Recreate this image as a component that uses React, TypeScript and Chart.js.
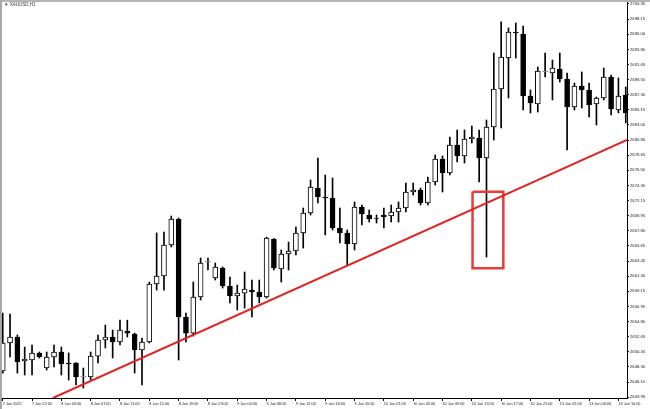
import { useEffect, useRef } from 'react';
import { Chart, registerables } from 'chart.js';

Chart.register(...registerables);

const OPEN = [
  2647.68, 2651.70, 2652.56, 2649.12, 2649.26, 2650.27, 2648.11, 2649.69, 2650.41, 2648.83,
  2648.83, 2646.82, 2646.82, 2649.83, 2652.13, 2652.56, 2651.84, 2653.42, 2652.99, 2650.70,
  2651.84, 2660.17, 2661.31, 2665.76, 2669.49, 2655.43, 2653.13, 2658.30, 2663.32, 2661.03,
  2662.46, 2659.88, 2658.44, 2658.87, 2659.30, 2659.02, 2658.30, 2666.62, 2662.32, 2664.47,
  2664.90, 2667.49, 2670.36, 2673.94, 2672.65, 2672.51, 2668.20, 2667.49, 2665.91, 2671.22,
  2670.07, 2669.56, 2670.07, 2669.92, 2670.50, 2671.07, 2673.37, 2673.66, 2671.79, 2674.81,
  2678.11, 2676.10, 2680.12, 2678.54, 2680.98, 2681.12, 2678.25, 2682.70, 2688.15, 2692.60,
  2696.33, 2696.04, 2687.15, 2686.00, 2690.66, 2690.45, 2691.02, 2689.59, 2685.57, 2688.58,
  2688.01, 2686.00, 2686.86, 2689.87, 2685.14, 2687.29,
];
const HIGH = [
  2655.99, 2655.86, 2652.85, 2651.12, 2651.41, 2650.41, 2650.41, 2651.41, 2651.12, 2650.27,
  2648.90, 2648.11, 2650.41, 2652.85, 2654.28, 2653.56, 2654.98, 2654.98, 2653.13, 2652.42,
  2660.45, 2667.49, 2667.63, 2669.92, 2669.64, 2655.99, 2660.45, 2663.90, 2663.90, 2663.18,
  2662.61, 2661.17, 2660.02, 2661.89, 2660.74, 2660.74, 2666.90, 2666.70, 2665.05, 2666.19,
  2668.35, 2671.07, 2675.09, 2678.25, 2675.81, 2675.38, 2671.07, 2667.92, 2671.94, 2671.50,
  2670.79, 2670.07, 2671.07, 2671.50, 2671.94, 2674.66, 2674.66, 2673.94, 2675.52, 2678.68,
  2678.54, 2681.26, 2682.27, 2682.27, 2682.84, 2682.27, 2683.70, 2693.32, 2697.77, 2696.91,
  2697.62, 2697.19, 2688.01, 2691.31, 2693.32, 2692.31, 2693.32, 2690.45, 2689.01, 2690.59,
  2689.01, 2687.00, 2691.16, 2690.16, 2689.73, 2688.44,
];
const LOW = [
  2647.39, 2649.69, 2647.39, 2647.11, 2647.11, 2649.55, 2647.82, 2648.26, 2647.11, 2646.39,
  2645.67, 2645.24, 2646.39, 2648.83, 2650.98, 2649.55, 2651.41, 2652.56, 2647.39, 2645.67,
  2651.70, 2659.30, 2659.30, 2665.48, 2649.26, 2651.84, 2652.70, 2657.87, 2662.18, 2660.74,
  2659.59, 2657.44, 2656.44, 2656.72, 2655.43, 2657.44, 2658.15, 2662.18, 2660.45, 2662.18,
  2664.33, 2665.33, 2670.07, 2671.79, 2667.20, 2667.92, 2666.05, 2662.89, 2665.05, 2668.63,
  2669.06, 2668.92, 2668.20, 2669.06, 2669.06, 2670.50, 2672.94, 2671.50, 2671.50, 2674.37,
  2673.37, 2675.81, 2677.67, 2677.53, 2680.40, 2674.81, 2664.04, 2680.83, 2682.55, 2686.86,
  2692.60, 2685.14, 2684.71, 2684.85, 2689.87, 2686.57, 2689.16, 2679.40, 2685.14, 2685.43,
  2684.13, 2682.99, 2686.57, 2684.42, 2684.71, 2683.27,
];
const CLOSE = [
  2651.70, 2652.56, 2648.97, 2649.40, 2650.27, 2649.69, 2649.69, 2650.41, 2648.69, 2648.69,
  2646.82, 2646.90, 2649.83, 2652.13, 2652.56, 2651.84, 2653.56, 2653.13, 2650.70, 2651.84,
  2660.17, 2661.31, 2665.76, 2669.49, 2655.43, 2653.13, 2658.30, 2663.18, 2663.40, 2662.61,
  2659.88, 2658.44, 2658.87, 2659.45, 2659.02, 2658.30, 2666.77, 2662.46, 2664.47, 2664.90,
  2667.49, 2670.36, 2674.09, 2672.65, 2672.51, 2668.20, 2667.49, 2665.91, 2671.22, 2670.21,
  2669.49, 2669.49, 2669.78, 2670.50, 2671.07, 2673.37, 2673.66, 2671.79, 2674.81, 2678.11,
  2676.10, 2680.12, 2678.54, 2680.98, 2681.26, 2678.25, 2682.70, 2688.15, 2692.74, 2696.33,
  2696.19, 2687.15, 2686.14, 2690.73, 2690.73, 2691.16, 2689.59, 2685.57, 2688.58, 2688.01,
  2685.86, 2686.86, 2689.87, 2685.28, 2687.15, 2684.71,
];

const X_LABELS = [
  '7 Jan 2025', '7 Jan 22:00', '8 Jan 03:00', '8 Jan 07:00', '8 Jan 11:00', '8 Jan 15:00',
  '8 Jan 19:00', '8 Jan 23:00', '9 Jan 04:00', '9 Jan 08:00', '9 Jan 12:00', '9 Jan 16:00',
  '9 Jan 20:00', '10 Jan 01:00', '10 Jan 05:00', '10 Jan 09:00', '10 Jan 13:00', '10 Jan 17:00',
  '10 Jan 21:00', '13 Jan 02:00', '13 Jan 06:00', '13 Jan 10:00',
];
const X_LABEL_INDEX = [0, 4, 8, 12, 16, 20, 24, 28, 32, 36, 40, 44, 48, 52, 56, 60, 64, 68, 72, 76, 80, 84];

const Y_TICKS = [
  2700.35, 2698.15, 2696.00, 2693.80, 2691.65, 2689.50, 2687.30, 2685.15, 2683.00, 2680.80,
  2678.65, 2676.50, 2674.30, 2672.15, 2669.95, 2667.80, 2665.65, 2663.45, 2661.30, 2659.15,
  2656.95, 2654.80, 2652.65, 2650.45, 2648.30, 2646.10, 2643.95,
];
const Y_MIN = 2643.81;
const Y_MAX = 2700.92;
const X_MIN = -0.37;
const X_MAX = 85.17;

const TREND_X = [6.85, 85.17];
const TREND_Y = [2643.81, 2680.83];

const BOX_X = [64.1, 68.3];
const BOX_Y = [2662.42, 2673.41];

const FONT = 'Liberation Sans, Arial, sans-serif';

export default function App() {
  const ref = useRef<HTMLCanvasElement>(null);

  useEffect(() => {
    document.body.style.margin = '0';
    const idx = OPEN.map((_, i) => i);
    const boxPts = [
      { x: BOX_X[0], y: BOX_Y[1] },
      { x: BOX_X[1], y: BOX_Y[1] },
      { x: BOX_X[1], y: BOX_Y[0] },
      { x: BOX_X[0], y: BOX_Y[0] },
      { x: BOX_X[0], y: BOX_Y[1] },
    ];
    const chart = new Chart(ref.current as HTMLCanvasElement, {
      type: 'bar',
      data: {
        datasets: [
          {
            type: 'line',
            label: 'Trend',
            data: TREND_X.map((x, i) => ({ x, y: TREND_Y[i] })),
            borderColor: '#e32222',
            borderWidth: 2,
            pointRadius: 0,
            order: 0,
          } as any,
          {
            type: 'line',
            label: 'Box',
            data: boxPts,
            borderColor: '#ea3b3b',
            borderWidth: 2.5,
            pointRadius: 0,
            borderJoinStyle: 'miter',
            order: 0,
          } as any,
          {
            type: 'bar',
            label: 'Body',
            data: idx.map((i) => ({ x: i, y: [OPEN[i], CLOSE[i]] })),
            backgroundColor: idx.map((i) => (CLOSE[i] >= OPEN[i] ? '#ffffff' : '#000000')),
            borderColor: '#000000',
            borderWidth: 1,
            borderSkipped: false,
            barThickness: 5,
            grouped: false,
            order: 1,
          } as any,
          {
            type: 'bar',
            label: 'Wick',
            data: idx.map((i) => ({ x: i, y: [LOW[i], HIGH[i]] })),
            backgroundColor: '#000000',
            borderWidth: 0,
            barThickness: 1,
            grouped: false,
            order: 2,
          } as any,
        ],
      },
      options: {
        responsive: false,
        maintainAspectRatio: false,
        animation: false,
        devicePixelRatio: 1,
        layout: { padding: 0 },
        plugins: {
          legend: { display: false },
          tooltip: { enabled: false },
          title: { display: false },
        },
        scales: {
          x: {
            type: 'linear',
            min: X_MIN,
            max: X_MAX,
            offset: false,
            grid: { display: true, offset: false, drawOnChartArea: false, drawTicks: true, tickLength: 3, color: '#000' },
            border: { display: true, color: '#000', width: 1 },
            ticks: {
              autoSkip: false,
              maxRotation: 0,
              minRotation: 0,
              align: 'start',
              padding: 1,
              color: '#222',
              font: { size: 3.8, family: FONT },
              callback: (_v: any, i: number) => X_LABELS[i],
            },
            afterBuildTicks: (s: any) => {
              s.ticks = X_LABEL_INDEX.map((v) => ({ value: v }));
            },
            afterFit: (s: any) => {
              s.height = 11;
              s.paddingLeft = 0;
              s.paddingRight = 0;
            },
          } as any,
          y: {
            type: 'linear',
            position: 'right',
            min: Y_MIN,
            max: Y_MAX,
            grid: { display: true, drawOnChartArea: false, drawTicks: true, tickLength: 2, color: '#000' },
            border: { display: true, color: '#000', width: 1 },
            ticks: {
              autoSkip: false,
              padding: 1,
              color: '#222',
              font: { size: 4.2, family: FONT },
              callback: (v: any) => Number(v).toFixed(2),
            },
            afterBuildTicks: (s: any) => {
              s.ticks = Y_TICKS.map((v) => ({ value: v }));
            },
            afterFit: (s: any) => {
              s.width = 23;
              s.paddingTop = 0;
              s.paddingBottom = 0;
            },
          } as any,
        },
      },
    });
    return () => chart.destroy();
  }, []);

  return (
    <div style={{ position: 'relative', width: 650, height: 409, background: '#fff' }}>
      <canvas ref={ref} width={650} height={409} style={{ display: 'block', width: 650, height: 409 }} />
      <div style={{ position: 'absolute', left: 0, top: 0, width: 650, height: 2, background: '#b4b4b4' }} />
      <div style={{ position: 'absolute', left: 0, top: 0, width: 2, height: 409, background: '#a8a8a8' }} />
      <div
        style={{
          position: 'absolute',
          left: 4,
          top: 2,
          fontFamily: FONT,
          fontSize: 4.5,
          lineHeight: '6px',
          color: '#333',
          whiteSpace: 'nowrap',
        }}
      >
        ▼ XAUUSD,H1
      </div>
    </div>
  );
}
